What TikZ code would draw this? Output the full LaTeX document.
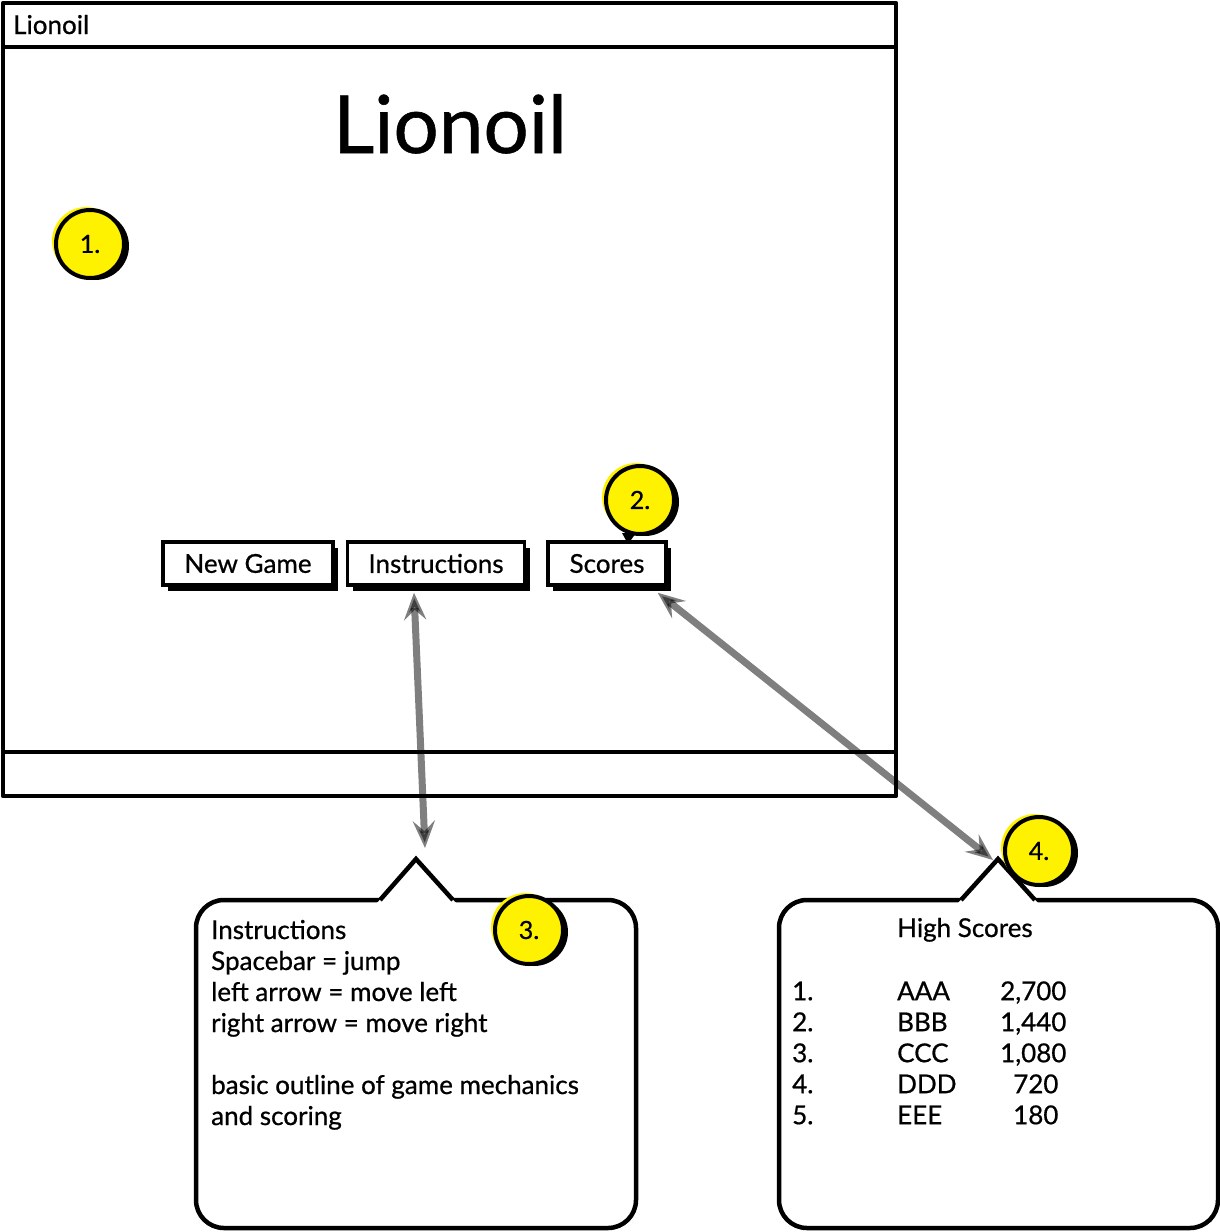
\documentclass[tikz,border=0pt]{standalone}
\usepackage{fontspec}
\setmainfont{Lato}[FakeBold=0.7]
\usetikzlibrary{matrix,positioning,shadows,arrows.meta,calc}

\begin{document}
\begin{tikzpicture}[
x=1pt, y=-1pt,
txt/.style={
  font=\fontsize{26}{31}\selectfont,
  inner sep=0pt
  },
btn/.style={
  txt,
  draw,
  fill=white,
  line width=3.5pt,
  minimum height=43pt,
  drop shadow={shadow xshift=5pt, shadow yshift=-6pt, fill=black, opacity=1}
  },
badge/.style={
  circle,
  draw,
  fill=yellow,
  line width=4pt,
  minimum size=68pt,
  inner sep=0pt,
  font=\fontsize{25}{25}\selectfont,
  general shadow={shadow xshift=-4pt, shadow yshift=3pt, fill=yellow},
  general shadow={shadow xshift=5pt, shadow yshift=-2pt, fill=black}
  },
callout/.style={
  draw,
  fill=white,
  line width=4.5pt,
  rounded corners=28pt,
  minimum height=328pt
  },
table/.style={
  matrix of nodes,
  inner sep=0pt,
  nodes={
    txt,
    anchor=base west,
    text height=20pt,
    text depth=6pt
    },
  column 1/.style={nodes={text width=105pt}},
  column 2/.style={nodes={text width=103pt}},
  row sep=5pt
  },
link/.style={
  <->,
  draw=black,
  opacity=0.5,
  line width=7pt
  },
>={Stealth[length=27pt,width=22pt,inset=10pt]}
]
\useasboundingbox (0,0) rectangle (1220,1232);

% window
\draw[line width=4.5pt, line join=round] (3,3) rectangle (896,796);
\draw[line width=3.5pt] (3,47) -- (896,47);
\draw[line width=3.5pt] (3,752) -- (896,752);
\node[txt, anchor=base west] (wintitle) at (13,34) {Lionoil};
\node[txt, anchor=base, font=\fontsize{80}{80}\selectfont] (title) at (450,153) {Lionoil};

% buttons
\node[btn, minimum width=170pt] (newgame) at (248,563.5) {New Game};
\node[btn, minimum width=177pt, right=11pt of newgame] (instr) {Instructions};
\node[btn, minimum width=118pt, right=20pt of instr] (scores) {Scores};

% callouts
\node[callout, minimum width=440pt] (instrbox) at (416,1064) {};
\coordinate (instrtip) at (416,859);
\fill[white] (377,903) -- (instrtip) -- (456,903) -- cycle;
\draw[line width=4.5pt] (380,900) -- (instrtip) -- (453,900);
\node[txt, anchor=base west, align=left] (instrtext) at (211,1125)
  {Instructions\\ Spacebar = jump\\ left arrow = move left\\
   right arrow = move right\\[31pt] basic outline of game mechanics\\ and scoring};

\node[callout, minimum width=439pt] (scorebox) at (998.5,1064) {};
\coordinate (scoretip) at (998,859);
\fill[white] (958,903) -- (scoretip) -- (1038,903) -- cycle;
\draw[line width=4.5pt] (961,900) -- (scoretip) -- (1035,900);
\node[txt, anchor=base west] (hstitle) at (897,937) {High Scores};
\matrix[table, anchor=north west] (hs) at (792,980)
{
1. & AAA & 2,700\\
2. & BBB & 1,440\\
3. & CCC & 1,080\\
4. & DDD & \hspace*{13pt}720\\
5. & EEE & \hspace*{13pt}180\\
};

% links
\draw[link] ([xshift=-22pt,yshift=-6pt]instr.south) -- ([xshift=9pt,yshift=11pt]instrtip);
\draw[link] ([xshift=-10pt,yshift=-6pt]scores.south east) -- ([xshift=-5pt,yshift=-1pt]scoretip);

% badges
\node[badge] (b1) at (90,244) {1.};
\node[badge] (b2) at (640,500) {2.};
\fill ([xshift=-18pt,yshift=3pt]b2.south) -- ([xshift=-12pt,yshift=-8pt]b2.south) -- ([xshift=-4pt,yshift=3pt]b2.south) -- cycle;
\node[badge] (b3) at (529,930) {3.};
\node[badge] (b4) at (1039,851) {4.};
\end{tikzpicture}
\end{document}
